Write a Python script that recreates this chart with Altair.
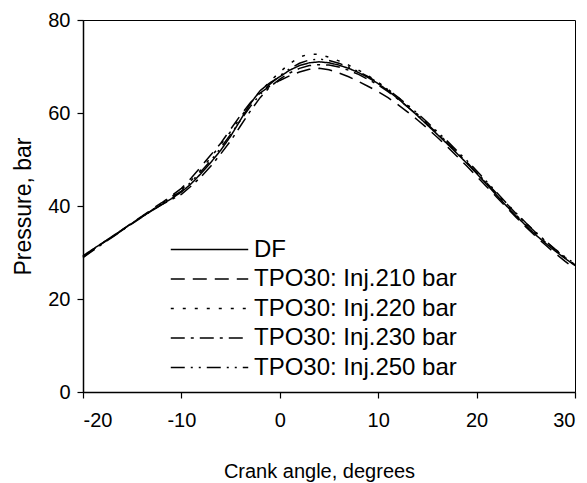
import altair as alt
import pandas as pd

crank = list(range(-20, 31))

series_names = ["DF", "TPO30: Inj.210 bar", "TPO30: Inj.220 bar",
                "TPO30: Inj.230 bar", "TPO30: Inj.250 bar"]

df_p = [29.3, 30.7, 32.1, 33.5, 34.9, 36.3, 37.7, 39.0, 40.3, 41.6,
        43.0, 44.8, 47.0, 49.4, 52.0, 55.0, 58.5, 62.0, 64.8, 66.5,
        67.8, 69.2, 70.2, 70.8, 71.0, 70.8, 70.3, 69.6, 68.7, 67.6,
        66.3, 64.8, 63.1, 61.3, 59.4, 57.4, 55.4, 53.4, 51.3, 49.2,
        47.0, 44.7, 42.4, 40.1, 37.9, 35.8, 33.8, 32.0, 30.3, 28.7, 27.2]

inj210 = [29.0, 30.5, 32.0, 33.4, 34.9, 36.4, 37.8, 39.3, 40.7, 42.2,
          43.8, 46.0, 48.5, 51.0, 53.5, 56.5, 59.5, 62.2, 64.3, 65.8,
          67.0, 68.0, 68.8, 69.4, 69.6, 69.3, 68.6, 67.8, 66.8, 65.7,
          64.6, 63.3, 61.8, 60.2, 58.5, 56.7, 54.8, 52.8, 50.7, 48.6,
          46.4, 44.2, 42.0, 39.8, 37.6, 35.5, 33.5, 31.6, 29.8, 28.1, 26.5]

inj220 = [29.2, 30.6, 32.0, 33.5, 34.9, 36.3, 37.7, 39.1, 40.5, 42.0,
          43.5, 45.5, 47.8, 50.5, 53.2, 56.0, 59.0, 62.0, 64.6, 66.8,
          68.8, 70.6, 72.0, 72.7, 72.6, 72.0, 71.2, 70.3, 69.2, 68.0,
          66.6, 65.1, 63.4, 61.6, 59.7, 57.7, 55.7, 53.7, 51.6, 49.4,
          47.2, 44.9, 42.6, 40.3, 38.1, 36.0, 34.0, 32.2, 30.5, 28.9, 27.4]

inj230 = [28.9, 30.4, 31.9, 33.3, 34.8, 36.2, 37.6, 39.0, 40.3, 41.4,
          42.5, 44.3, 46.3, 48.6, 51.2, 54.0, 57.2, 60.4, 63.3, 65.6,
          67.3, 68.6, 69.6, 70.2, 70.4, 70.3, 69.9, 69.2, 68.3, 67.2,
          66.0, 64.6, 63.0, 61.3, 59.5, 57.6, 55.6, 53.6, 51.5, 49.4,
          47.2, 45.0, 42.8, 40.6, 38.4, 36.3, 34.3, 32.4, 30.6, 28.9, 27.3]

inj250 = [29.1, 30.6, 32.0, 33.4, 34.8, 36.3, 37.7, 39.1, 40.5, 41.9,
          43.2, 45.2, 47.4, 49.8, 52.5, 55.4, 58.4, 61.4, 64.0, 66.2,
          68.0, 69.5, 70.7, 71.4, 71.6, 71.3, 70.7, 69.9, 68.9, 67.8,
          66.5, 65.0, 63.4, 61.7, 59.9, 58.0, 56.0, 54.0, 51.9, 49.8,
          47.6, 45.3, 43.0, 40.7, 38.5, 36.4, 34.4, 32.5, 30.7, 29.0, 27.6]

x_ticks = [-20, -10, 0, 10, 20, 30]
y_ticks = [0, 20, 40, 60, 80]

rows = []
for name, vals in zip(series_names, [df_p, inj210, inj220, inj230, inj250]):
    for a, p in zip(crank, vals):
        rows.append({"angle": a, "pressure": p, "series": name})
data = pd.DataFrame(rows)

dashes = [[1, 0], [14, 8], [3, 9], [14, 6, 3, 6], [14, 6, 2, 6, 2, 6]]

FONT = "Liberation Sans"

chart = alt.Chart(data).mark_line(color="black", strokeWidth=1.5).encode(
    x=alt.X("angle:Q",
            scale=alt.Scale(domain=[-20, 30], nice=False),
            axis=alt.Axis(values=x_ticks, title="Crank angle, degrees",
                          labelExpr="'' + datum.value",
                          titleX=236, titlePadding=31, labelPadding=12)),
    y=alt.Y("pressure:Q",
            scale=alt.Scale(domain=[0, 80], nice=False),
            axis=alt.Axis(values=y_ticks, title="Pressure, bar",
                          titleFontSize=23,
                          titlePadding=12, labelPadding=7)),
    strokeDash=alt.StrokeDash(
        "series:N",
        scale=alt.Scale(domain=series_names, range=dashes),
        legend=alt.Legend(title=None, orient="none", legendX=87, legendY=216,
                          symbolType="stroke", symbolSize=6000,
                          symbolStrokeWidth=1.5, symbolStrokeColor="black",
                          clipHeight=27, rowPadding=2.5, labelOffset=5,
                          labelFontSize=24, labelFont=FONT, labelColor="black",
                          labelLimit=400)),
    detail="series:N",
).properties(
    width=492, height=372,
    autosize=alt.AutoSizeParams(type="none"),
    padding={"left": 83, "top": 20, "right": 12, "bottom": 91},
).configure_view(
    stroke="black", strokeWidth=1
).configure_axis(
    grid=False, domainColor="black", domainWidth=1.5, tickColor="black",
    tickSize=6, tickWidth=1.2, labelFont=FONT, labelFontSize=20,
    labelColor="black", titleFont=FONT, titleFontSize=20,
    titleFontWeight="normal", titleColor="black"
)

chart.save("out.html", embed_options={"renderer": "svg", "actions": False})
